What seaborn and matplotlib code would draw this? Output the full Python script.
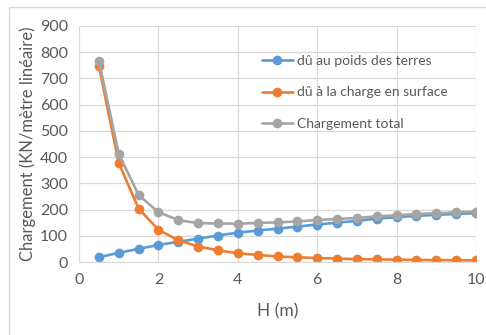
import numpy as np
import pandas as pd
import matplotlib
matplotlib.use("Agg")
import matplotlib.pyplot as plt
import seaborn as sns
from matplotlib.patches import Rectangle

# H (m)
hauteur = [0.5, 1.0, 1.5, 2.0, 2.5, 3.0, 3.5, 4.0, 4.5, 5.0,
           5.5, 6.0, 6.5, 7.0, 7.5, 8.0, 8.5, 9.0, 9.5, 10.0]
poids_terres = [18, 35, 50, 65, 77, 89, 101, 112, 120, 127,
                135, 143, 150, 157, 165, 171, 176, 180, 183, 186]
charge_surface = [748, 378, 204, 123, 83, 59, 45, 33, 27, 21,
                  18, 15, 13, 11, 10, 9, 8, 7, 7, 6]
chargement_total = [768, 413, 256, 190, 160, 148, 147, 146, 149, 151,
                    155, 160, 164, 168, 174, 178, 183, 186, 189, 192]

series = ["dû au poids des terres", "dû à la charge en surface", "Chargement total"]
couleurs = ["#5B9BD5", "#ED7D31", "#A5A5A5"]

df = pd.concat([
    pd.DataFrame({"H": hauteur, "val": v, "serie": s})
    for s, v in zip(series, [poids_terres, charge_surface, chargement_total])
])

sns.set_style("white")
plt.rcParams["font.family"] = ["Lato", "DejaVu Sans"]

fig = plt.figure(figsize=(4.86, 3.35), dpi=100)
ax = fig.add_axes([79 / 486, 1 - 262 / 335, 397 / 486, 236 / 335])

sns.lineplot(data=df, x="H", y="val", hue="serie", hue_order=series,
             palette=couleurs, marker="o", markersize=7, markeredgewidth=0,
             linewidth=1.9, ax=ax)

ax.set_xlim(0, 10)
ax.set_ylim(0, 900)
ax.set_xticks(range(0, 11, 2))
ax.set_yticks(range(0, 901, 100))
ax.grid(True, color="#D9D9D9", linewidth=0.9)
ax.set_axisbelow(True)
for side in ["top", "right", "left"]:
    ax.spines[side].set_visible(False)
ax.spines["bottom"].set_color("#D9D9D9")
ax.tick_params(length=0, labelsize=11.5, colors="#595959", pad=8)

ax.set_xlabel("H (m)", fontsize=12.5, color="#595959", labelpad=12)
ax.set_ylabel("Chargement (KN/mètre linéaire)", fontsize=12, color="#595959", labelpad=3)

leg = ax.legend(loc="upper left", bbox_to_anchor=(0.43, 0.93), frameon=False,
                fontsize=10, labelspacing=1.4, handlelength=2.2, handletextpad=0.3)
for t in leg.get_texts():
    t.set_color("#595959")

fig.patches.append(Rectangle((9 / 486, -0.1), 1.2, 1.1 - 7 / 335, transform=fig.transFigure,
                             fill=False, edgecolor="#D9D9D9", linewidth=1))

fig.savefig("out.png", dpi=100)
